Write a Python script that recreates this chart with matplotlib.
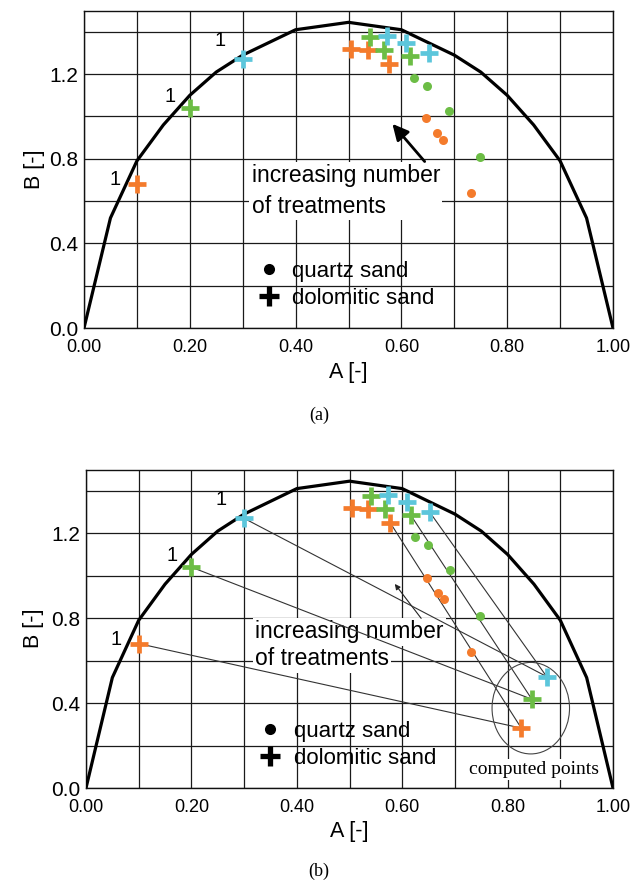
import numpy as np
import matplotlib
matplotlib.use("Agg")
import matplotlib.pyplot as plt
from matplotlib.lines import Line2D
from matplotlib.patches import Ellipse

plt.rcParams['font.family'] = ['Liberation Sans', 'DejaVu Sans']

# ---------------- data ----------------
# boundary curve
curve_A = [0.0, 0.05, 0.10, 0.15, 0.20, 0.25, 0.30, 0.35, 0.40, 0.50, 0.60, 0.65, 0.70, 0.75, 0.80, 0.85, 0.90, 0.95, 1.0]
curve_B = [0.0, 0.52, 0.79, 0.96, 1.10, 1.21, 1.29, 1.35, 1.41, 1.445, 1.41, 1.35, 1.29, 1.21, 1.10, 0.96, 0.79, 0.52, 0.0]

# dolomitic sand (crosses), first point = treatment 1
dolo_orange_A = [0.10, 0.504, 0.536, 0.577]
dolo_orange_B = [0.68, 1.317, 1.313, 1.250]
dolo_green_A = [0.20, 0.541, 0.567, 0.616]
dolo_green_B = [1.04, 1.376, 1.313, 1.286]
dolo_cyan_A = [0.30, 0.573, 0.609, 0.652]
dolo_cyan_B = [1.27, 1.381, 1.345, 1.300]

# quartz sand (circles)
quartz_orange_A = [0.647, 0.667, 0.679, 0.731]
quartz_orange_B = [0.991, 0.920, 0.891, 0.639]
quartz_green_A = [0.624, 0.649, 0.690, 0.748]
quartz_green_B = [1.184, 1.143, 1.025, 0.808]

# computed points (panel b)
comp_A = [0.826, 0.846, 0.874]
comp_B = [0.282, 0.418, 0.525]

x_ticks = [0.0, 0.2, 0.4, 0.6, 0.8, 1.0]
x_ticklabels = ["0.00", "0.20", "0.40", "0.60", "0.80", "1.00"]
y_ticks = [0.0, 0.4, 0.8, 1.2]
y_ticklabels = ["0.0", "0.4", "0.8", "1.2"]

ORANGE = '#F47B2C'
GREEN = '#6CBD45'
CYAN = '#5CC6DB'

series = [
    (dolo_orange_A, dolo_orange_B, ORANGE, (-16, 3)),
    (dolo_green_A, dolo_green_B, GREEN, (-14, 8.6)),
    (dolo_cyan_A, dolo_cyan_B, CYAN, (-16.5, 13.4)),
]

W, H = 634, 886
fig = plt.figure(figsize=(W / 100, H / 100), dpi=100)


def px_axes(left, right, top, bottom):
    return fig.add_axes([left / W, 1 - bottom / H, (right - left) / W, (bottom - top) / H])


def draw_base(ax):
    ax.set_xlim(0, 1.0)
    ax.set_ylim(0, 1.5)
    ax.set_xticks(x_ticks)
    ax.set_xticklabels(x_ticklabels, fontsize=13)
    ax.set_yticks(y_ticks)
    ax.set_yticklabels(y_ticklabels, fontsize=15)
    ax.set_xticks(np.arange(0, 1.01, 0.1), minor=True)
    ax.set_yticks(np.arange(0, 1.51, 0.2), minor=True)
    ax.tick_params(which='both', length=0)
    ax.tick_params(axis='x', pad=8)
    ax.tick_params(axis='y', pad=4)
    ax.grid(which='both', color='#1a1a1a', lw=0.9, zorder=0)
    ax.set_axisbelow(True)
    for s in ax.spines.values():
        s.set_linewidth(1.0)
        s.set_color('#111111')
    ax.plot(curve_A, curve_B, color='black', lw=2.3, zorder=6, solid_joinstyle='miter')
    # quartz circles
    ax.plot(quartz_orange_A, quartz_orange_B, 'o', color=ORANGE, ms=6.5, mew=0, zorder=7)
    ax.plot(quartz_green_A, quartz_green_B, 'o', color=GREEN, ms=6.5, mew=0, zorder=7)
    # dolomitic crosses
    for A, B, c, off in series:
        ax.plot(A, B, '+', color=c, ms=12.5, mew=3.4, zorder=8)
        ax.annotate('1', (A[0], B[0]), xytext=off, textcoords='offset points',
                    ha='center', va='center', fontsize=14.5, zorder=9)
    # legend
    handles = [Line2D([], [], marker='o', color='black', ls='none', ms=8, mew=0),
               Line2D([], [], marker='+', color='black', ls='none', ms=14, mew=3.8)]
    ax.legend(handles, ['quartz sand', 'dolomitic sand'], loc='center left',
              bbox_to_anchor=(0.329, 0.136), frameon=False, fontsize=16,
              handlelength=1.0, handletextpad=0.55, labelspacing=0.28,
              borderpad=0, borderaxespad=0)
    ax.set_xlabel('A [-]', fontsize=15.5)
    ax.set_ylabel('B [-]', fontsize=15.5)
    ax.xaxis.label.set_va('center')
    ax.yaxis.label.set_va('center')


# ---------------- panel (a) ----------------
ax1 = px_axes(84, 613, 10.7, 328)
draw_base(ax1)
ax1.xaxis.set_label_coords(0.499, -0.139)
ax1.yaxis.set_label_coords(-0.093, 0.5)
ax1.text(0.317, 0.648, 'increasing number\nof treatments', fontsize=16.5, ha='left', va='center',
         linespacing=1.45, zorder=4,
         bbox=dict(boxstyle='square,pad=0.1', fc='white', ec='none'))
ax1.annotate('', xy=(0.583, 0.965), xytext=(0.644, 0.787),
             arrowprops=dict(arrowstyle='-|>', lw=2.0, color='black', mutation_scale=24,
                             shrinkA=0, shrinkB=0), zorder=5)
fig.text(319 / W, 1 - 415 / H, '(a)', family=['Liberation Serif'], fontsize=13,
         ha='center', va='center')

# ---------------- panel (b) ----------------
ax2 = px_axes(86, 613, 469.5, 788)
draw_base(ax2)
ax2.xaxis.set_label_coords(0.499, -0.138)
ax2.yaxis.set_label_coords(-0.1, 0.5)
ax2.text(0.321, 0.735, 'increasing number', fontsize=16.5, ha='left', va='center', zorder=4,
         bbox=dict(boxstyle='square,pad=0.1', fc='white', ec='none'))
ax2.text(0.321, 0.608, 'of treatments', fontsize=16.5, ha='left', va='center', zorder=4,
         bbox=dict(boxstyle='square,pad=0.1', fc='white', ec='none'))
ax2.annotate('', xy=(0.586, 0.961), xytext=(0.636, 0.799),
             arrowprops=dict(arrowstyle='-|>', lw=0.8, color='#222222', mutation_scale=8,
                             shrinkA=0, shrinkB=0), zorder=5)
comp_colors = [ORANGE, GREEN, CYAN]
for (A, B, c, off), ca, cb in zip(series, comp_A, comp_B):
    ax2.plot([A[0], ca], [B[0], cb], color='#333333', lw=0.8, zorder=5)
    ax2.plot([A[-1], ca], [B[-1], cb], color='#333333', lw=0.8, zorder=5)
for ca, cb, c in zip(comp_A, comp_B, comp_colors):
    ax2.plot([ca], [cb], '+', color=c, ms=12.5, mew=3.4, zorder=8)
ax2.add_patch(Ellipse((0.844, 0.376), 0.147, 0.431, fill=False, ec='#444444', lw=0.8, zorder=5))
ax2.text(0.727, 0.086, 'computed points', family=['Liberation Serif'], fontsize=14,
         ha='left', va='center', zorder=4,
         bbox=dict(boxstyle='square,pad=0.1', fc='white', ec='none'))
fig.text(319 / W, 1 - 871 / H, '(b)', family=['Liberation Serif'], fontsize=13,
         ha='center', va='center')

fig.savefig('out.png', dpi=100)
